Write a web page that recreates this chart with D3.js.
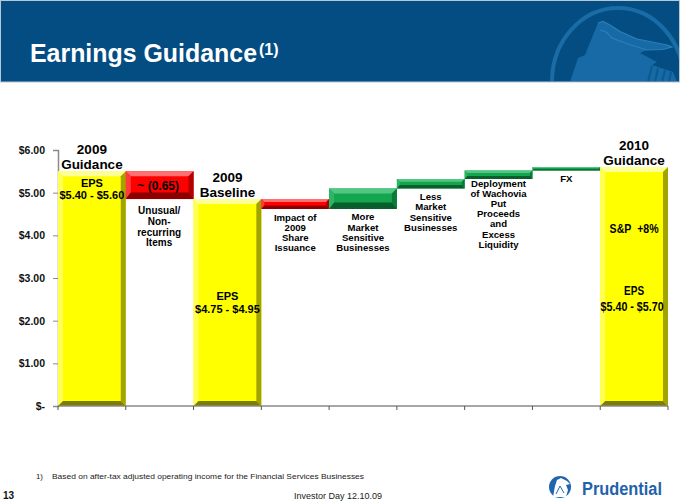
<!DOCTYPE html>
<html>
<head>
<meta charset="utf-8">
<script src="https://cdn.jsdelivr.net/npm/d3@7/dist/d3.min.js"></script>
<style>
  html,body{margin:0;padding:0;background:#fff;}
  svg{display:block;}
  text{font-family:"Liberation Sans",Arial,Helvetica,sans-serif;}
</style>
</head>
<body>
<svg id="chart" width="680" height="502"></svg>
<script>
// ---------------- DATA ----------------
const categories = [
  "2009 Guidance", "Unusual/Non-recurring Items", "2009 Baseline",
  "Impact of 2009 Share Issuance", "More Market Sensitive Businesses",
  "Less Market Sensitive Businesses",
  "Deployment of Wachovia Put Proceeds and Excess Liquidity", "FX", "2010 Guidance"
];
const barTypes = ["total","delta","total","delta","delta","delta","delta","delta","total"];
const values   = [5.50, -0.65, 4.85, -0.23, 0.48, 0.22, 0.20, 0.08, 5.60];
const yTickValues = [0, 1, 2, 3, 4, 5, 6];
const yTickLabels = ["$-", "$1.00", "$2.00", "$3.00", "$4.00", "$5.00", "$6.00"];

const headerLines = [["2009","Guidance"], [], ["2009","Baseline"], [], [], [], [], [], ["2010","Guidance"]];
const belowLines  = [
  [], ["Unusual/","Non-","recurring","Items"], [],
  ["Impact of","2009","Share","Issuance"],
  ["More","Market","Sensitive","Businesses"],
  ["Less","Market","Sensitive","Businesses"],
  ["Deployment","of Wachovia","Put","Proceeds","and","Excess","Liquidity"],
  ["FX"], []
];
const insideTop = ["EPS|$5.40 - $5.60", "~ (0.65)", "", "", "", "", "", "", "S&P\u00A0\u00A0+8%"];
const insideMid = ["", "", "EPS|$4.75 - $4.95", "", "", "", "", "", "EPS|$5.40 - $5.70"];

const titleText = "Earnings Guidance";
const footnote = "Based on after-tax adjusted operating income for the Financial Services Businesses";

// ---------------- LAYOUT ----------------
const svg = d3.select("#chart");
const x = d3.scaleBand().domain(categories).range([58, 668]).padding(0);
const y = d3.scaleLinear().domain([0, 6]).range([406, 150]);

// compute waterfall segments
let running = 0;
const bars = categories.map((c, i) => {
  let start, end;
  if (barTypes[i] === "total") { start = 0; end = values[i]; running = values[i]; }
  else { start = running; end = running + values[i]; running = end; }
  return {cat: c, i, start, end, type: barTypes[i], v: values[i]};
});

// ---------------- BANNER ----------------
svg.append("rect").attr("x",0).attr("y",0).attr("width",680).attr("height",82).attr("fill","#044D82");
const defs = svg.append("defs");
defs.append("clipPath").attr("id","bannerClip").append("rect")
  .attr("x",0).attr("y",0).attr("width",680).attr("height",81);
const wm = svg.append("g").attr("clip-path","url(#bannerClip)");
wm.append("ellipse").attr("cx",618).attr("cy",82).attr("rx",66).attr("ry",74)
  .attr("fill","none").attr("stroke","#1A6CA6").attr("stroke-width",4);
const rockPts = [[570,82],[578,58],[585,55],[591,40],[598,23],[603,21.5],[610,25],[620,31.5],[637,39],[667,45],[672,47],[663,49.5],[647,50],[640,53],[657,62],[652,65],[673,72],[677,82]];
wm.append("path").attr("d", d3.line()(rockPts) + "Z").attr("fill","#176AA5");
wm.append("path").attr("d", d3.line()([[598,23],[603,21.5],[610,25],[620,31.5],[637,39],[667,45],[672,47],[663,49.5],[647,50],[628,44],[612,38],[606,32],[600,30]]))
  .attr("fill","none").attr("stroke","#2A80BA").attr("stroke-width",1.2);
[[648,82,652,66],[655,82,658,68],[662,82,665,70],[669,82,671,72]].forEach(l=>{
  wm.append("line").attr("x1",l[0]).attr("y1",l[1]).attr("x2",l[2]).attr("y2",l[3])
    .attr("stroke","#0A5A92").attr("stroke-width",2);
});
svg.append("rect").attr("x",0.5).attr("y",0.5).attr("width",679).attr("height",81.5)
  .attr("fill","none").attr("stroke","#B9C6D3").attr("stroke-width",1);

svg.append("text").attr("x",30).attr("y",62).attr("fill","#fff")
  .attr("font-size",25).attr("font-weight","bold")
  .attr("textLength",227).attr("lengthAdjust","spacingAndGlyphs").text(titleText);
svg.append("text").attr("x",259).attr("y",55).attr("fill","#fff")
  .attr("font-size",16).attr("font-weight","bold").text("(1)");

// ---------------- AXES ----------------
const yAxis = d3.axisLeft(y).tickValues(yTickValues).tickSize(5).tickPadding(8)
  .tickFormat((d,i) => yTickLabels[i]);
const gy = svg.append("g").attr("transform","translate(58,0)").call(yAxis);
gy.select(".domain").attr("stroke","#8a8a8a").attr("stroke-width",1.5);
gy.selectAll(".tick line").attr("stroke","#8a8a8a").attr("stroke-width",1);
gy.selectAll(".tick text").attr("font-size",10.5).attr("font-weight","bold").attr("fill","#111")
  .attr("font-family","Liberation Sans, Arial, sans-serif").attr("x",-13);

// ---------------- BARS ----------------
const palettes = {
  yellow:{base:"#FFFF00", top:"#FFFF9A", left:"#FFFF55", right:"#A3A300", bottom:"#7D7D00"},
  red:{base:"#FF0000", top:"#FF7070", left:"#FF3A3A", right:"#B00000", bottom:"#8E0000"},
  green:{base:"#14A54F", top:"#52C782", left:"#2DB566", right:"#0C7A39", bottom:"#095F2C"}
};
const gb = svg.append("g");
bars.forEach(d => {
  const pal = d.type === "total" ? palettes.yellow : (d.v < 0 ? palettes.red : palettes.green);
  const x0 = x(d.cat), w = x.bandwidth();
  const yTop = y(Math.max(d.start, d.end)), yBot = y(Math.min(d.start, d.end));
  const h = yBot - yTop;
  const b = Math.min(5, h * 0.3);
  const bb = d.type === "total" ? Math.min(5, h*0.3) : Math.min(6.5, h * 0.35);
  const g = gb.append("g");
  g.append("rect").attr("x",x0).attr("y",yTop).attr("width",w).attr("height",h).attr("fill",pal.base);
  const poly = (pts, fill) => g.append("path").attr("d", d3.line()(pts) + "Z").attr("fill", fill);
  poly([[x0,yTop],[x0+w,yTop],[x0+w-b,yTop+b],[x0+b,yTop+b]], pal.top);
  poly([[x0,yTop],[x0+b,yTop+b],[x0+b,yBot-bb],[x0,yBot]], pal.left);
  poly([[x0+w,yTop],[x0+w,yBot],[x0+w-b,yBot-bb],[x0+w-b,yTop+b]], pal.right);
  poly([[x0,yBot],[x0+w,yBot],[x0+w-b,yBot-bb],[x0+b,yBot-bb]], pal.bottom);
});

// x axis on top of bars
const xAxisG = svg.append("g");
xAxisG.append("line").attr("x1",58).attr("x2",668).attr("y1",y(0)).attr("y2",y(0))
  .attr("stroke","#8a8a8a").attr("stroke-width",1.5);
const bounds = categories.map(c => x(c)).concat([x.range()[1]]);
bounds.forEach(bx => {
  xAxisG.append("line").attr("x1",bx).attr("x2",bx).attr("y1",y(0)).attr("y2",y(0)+4)
    .attr("stroke","#555").attr("stroke-width",1);
});

// ---------------- LABELS ----------------
const gl = svg.append("g").attr("fill","#000").attr("font-weight","bold").attr("text-anchor","middle");
const cx = c => x(c) + x.bandwidth()/2;

bars.forEach(d => {
  const lines = headerLines[d.i];
  if (!lines.length) return;
  const top = y(d.end);
  lines.forEach((t, k) => {
    gl.append("text").attr("x", cx(d.cat)).attr("y", top - 2 - (lines.length-1-k)*15)
      .attr("font-size",13.5).text(t);
  });
});

const firstGap = [0, 15, 0, 12, 11.5, 11.5, 7.5, 11.5, 0];
const lineStep = [0, 10.8, 0, 10, 10.2, 10.3, 10.2, 10, 0];
const smallSize = [0, 10, 0, 9.6, 9.6, 9.6, 9.6, 9.6, 0];
bars.forEach(d => {
  const lines = belowLines[d.i];
  if (!lines.length) return;
  const bot = y(Math.min(d.start, d.end));
  lines.forEach((t, k) => {
    gl.append("text").attr("x", cx(d.cat) + (d.i===1?-0.5:0)).attr("y", bot + firstGap[d.i] + k*lineStep[d.i])
      .attr("font-size", smallSize[d.i]).text(t);
  });
});

(function(){
  const d = bars[0], parts = insideTop[0].split("|");
  gl.append("text").attr("x",cx(d.cat)).attr("y",187.3).attr("font-size",11).text(parts[0]);
  gl.append("text").attr("x",cx(d.cat)).attr("y",198.6).attr("font-size",11).text(parts[1]);
})();
gl.append("text").attr("x",cx(bars[1].cat)-1.5).attr("y",190).attr("font-size",12).text(insideTop[1]);
(function(){
  const d = bars[2], parts = insideMid[2].split("|");
  gl.append("text").attr("x",cx(d.cat)).attr("y",300).attr("font-size",11).text(parts[0]);
  gl.append("text").attr("x",cx(d.cat)).attr("y",312.7).attr("font-size",11).text(parts[1]);
})();
(function(){
  const d = bars[8], parts = insideMid[8].split("|");
  gl.append("text").attr("x",cx(d.cat)).attr("y",233.3).attr("font-size",13)
    .attr("textLength",49).attr("lengthAdjust","spacingAndGlyphs").text(insideTop[8]);
  gl.append("text").attr("x",cx(d.cat)).attr("y",295).attr("font-size",12.5)
    .attr("textLength",20).attr("lengthAdjust","spacingAndGlyphs").text(parts[0]);
  gl.append("text").attr("x",cx(d.cat)-2).attr("y",311).attr("font-size",12.5)
    .attr("textLength",63).attr("lengthAdjust","spacingAndGlyphs").text(parts[1]);
})();

// ---------------- FOOTER ----------------
const gf = svg.append("g");
gf.append("text").attr("x",36).attr("y",479).attr("font-size",7.8).attr("fill","#222").text("1)");
gf.append("text").attr("x",52).attr("y",479).attr("font-size",7.8).attr("fill","#222")
  .attr("textLength",312).attr("lengthAdjust","spacingAndGlyphs").text(footnote);
gf.append("text").attr("x",3).attr("y",499).attr("font-size",10).attr("font-weight","bold").attr("fill","#111").text("13");
gf.append("text").attr("x",338).attr("y",499).attr("font-size",9).attr("fill","#222")
  .attr("text-anchor","middle").text("Investor Day 12.10.09");

const lg = svg.append("g");
lg.append("circle").attr("cx",560).attr("cy",487).attr("r",11).attr("fill","#1F66AE");
lg.append("path").attr("d", d3.line()([[553,497],[555,486],[557,480],[561,478],[567,481],[570,484],[566,485],[568,490],[566,497]])+"Z")
  .attr("fill","#fff");
lg.append("path").attr("d", d3.line()([[556,494],[560,486],[564,493]]))
  .attr("fill","none").attr("stroke","#1F66AE").attr("stroke-width",1);
lg.append("text").attr("x",582).attr("y",495).attr("font-family","Liberation Serif, Times New Roman, serif")
  .attr("font-weight","bold").attr("font-size",18).attr("fill","#1F63AB")
  .attr("textLength",80).attr("lengthAdjust","spacingAndGlyphs").text("Prudential");
</script>
</body>
</html>
